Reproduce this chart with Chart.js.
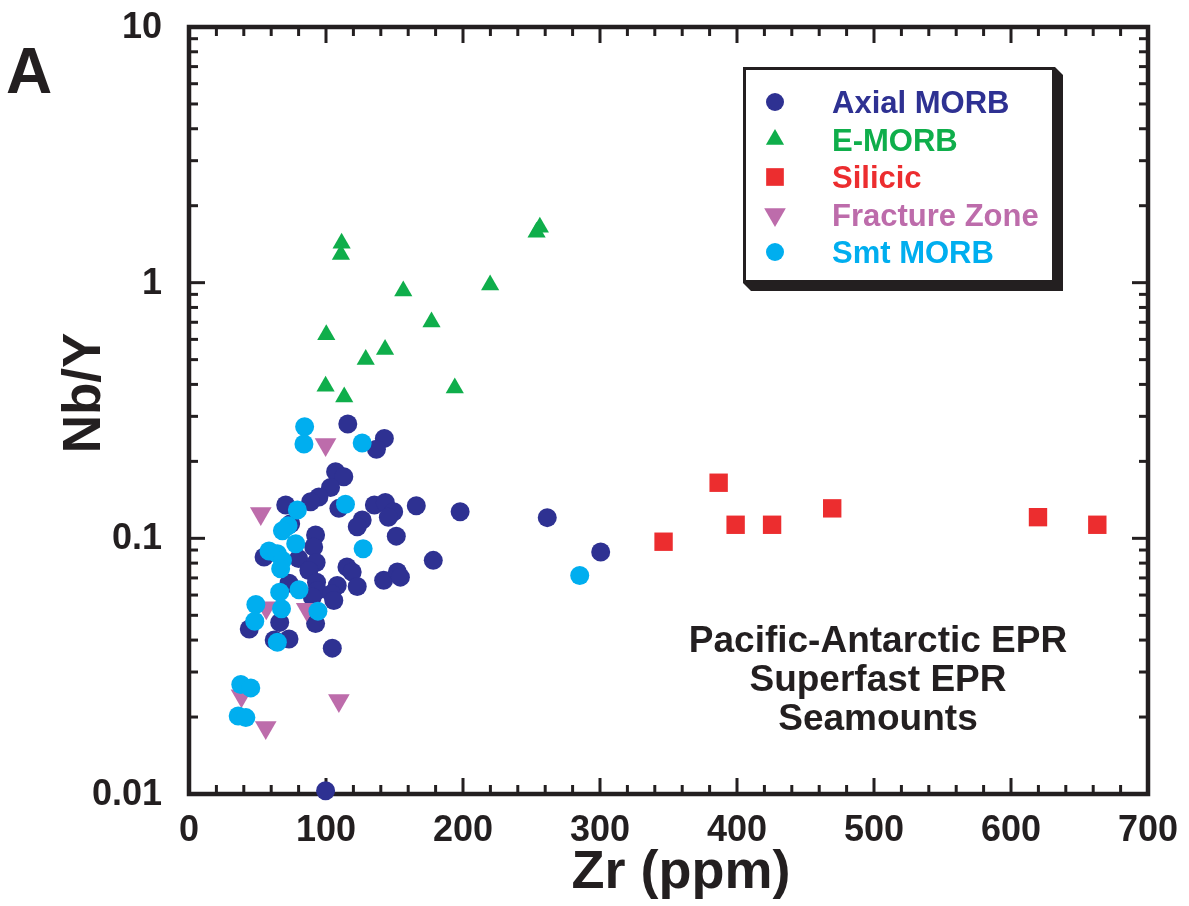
<!DOCTYPE html>
<html>
<head>
<meta charset="utf-8">
<script src="https://cdn.jsdelivr.net/npm/chart.js@4.4.1/dist/chart.umd.min.js"></script>
<style>
  html, body { margin: 0; padding: 0; background: #ffffff; }
  canvas { display: block; }
</style>
</head>
<body>
<canvas id="chart" width="1189" height="906"></canvas>
<script>
// Axis tick labels
const xTickLabels = [0, 100, 200, 300, 400, 500, 600, 700];
const yTickLabels = [0.01, 0.1, 1, 10];

// Series names (legend order)
const seriesNames = ['Axial MORB', 'E-MORB', 'Silicic', 'Fracture Zone', 'Smt MORB'];

// Axial MORB: Zr (ppm) and Nb/Y
const axialZr = [115.9, 142.6, 136.8, 107.0, 113.0, 103.3, 94.8, 88.8, 70.6, 109.4,
  135.3, 143.3, 149.4, 145.5, 126.4, 122.8, 165.9, 197.9, 151.3, 74.2,
  92.4, 91.0, 54.8, 80.0, 92.8, 87.5, 115.3, 119.1, 178.3, 142.1,
  152.1, 154.3, 73.0, 93.1, 93.6, 108.2, 122.8, 104.1, 105.7, 90.0,
  66.2, 92.4, 44.0, 73.0, 62.2, 104.6, 99.7, 261.5, 300.5];
const axialNbY = [0.280, 0.246, 0.223, 0.182, 0.174, 0.158, 0.145, 0.139, 0.135, 0.131,
  0.135, 0.138, 0.127, 0.121, 0.118, 0.111, 0.134, 0.127, 0.102, 0.114,
  0.103, 0.0925, 0.0845, 0.0833, 0.0805, 0.0749, 0.0772, 0.0738, 0.0820, 0.0685,
  0.0738, 0.0705, 0.0668, 0.0674, 0.0625, 0.0654, 0.0648, 0.0607, 0.0571, 0.0589,
  0.0469, 0.0464, 0.0442, 0.0404, 0.0400, 0.0372, 0.0103, 0.1205, 0.0884];

// E-MORB
const emorbZr = [111.4, 110.9, 156.4, 219.8, 256.1, 253.7, 177.0, 100.2, 143.1, 129.0, 99.7, 113.3, 194.0];
const emorbNbY = [1.426, 1.288, 0.928, 0.979, 1.649, 1.576, 0.702, 0.626, 0.548, 0.501, 0.393, 0.357, 0.387];

// Silicic
const silicicZr = [346.4, 386.6, 399.0, 425.6, 469.5, 619.7, 663.0];
const silicicNbY = [0.097, 0.165, 0.113, 0.113, 0.131, 0.121, 0.113];

// Fracture Zone
const fractureZr = [99.7, 52.4, 56.4, 85.9, 38.3, 56.0, 109.4];
const fractureNbY = [0.233, 0.125, 0.0535, 0.0528, 0.0242, 0.0182, 0.0232];

// Seamount MORB
const smtZr = [84.4, 83.9, 126.4, 114.2, 79.1, 72.3, 68.2, 77.9, 58.4, 64.5,
  68.2, 66.9, 127.1, 66.2, 80.3, 48.8, 67.5, 94.1, 48.0, 64.5,
  37.8, 45.1, 35.9, 41.5, 285.2];
const smtNbY = [0.273, 0.234, 0.236, 0.136, 0.129, 0.112, 0.107, 0.0953, 0.0892, 0.0871,
  0.0820, 0.0761, 0.0911, 0.0616, 0.0629, 0.0551, 0.0530, 0.0519, 0.0474, 0.0392,
  0.0268, 0.0260, 0.0202, 0.0199, 0.0716];

// Inset annotation lines
const noteLines = ['Pacific-Antarctic EPR', 'Superfast EPR', 'Seamounts'];

const pairs = (xs, ys) => xs.map((v, i) => ({ x: v, y: ys[i] }));

const INK = '#231f20';
const FONT = '"Liberation Sans", Arial, Helvetica, sans-serif';
const colors = {
  axial: '#2e3192',
  emorb: '#0fae4b',
  silicic: '#ec2d2f',
  fracture: '#bd6cab',
  smt: '#00aeef'
};

const datasets = [
  { label: seriesNames[0], data: pairs(axialZr, axialNbY), backgroundColor: colors.axial,
    pointStyle: 'circle', pointRadius: 9.5, pointRotation: 0, order: 5, legendRadius: 9 },
  { label: seriesNames[1], data: pairs(emorbZr, emorbNbY), backgroundColor: colors.emorb,
    pointStyle: 'triangle', pointRadius: 10.5, pointRotation: 0, order: 4, legendRadius: 10.5 },
  { label: seriesNames[2], data: pairs(silicicZr, silicicNbY), backgroundColor: colors.silicic,
    pointStyle: 'rect', pointRadius: 13, pointRotation: 0, order: 3, legendRadius: 12.5 },
  { label: seriesNames[3], data: pairs(fractureZr, fractureNbY), backgroundColor: colors.fracture,
    pointStyle: 'triangle', pointRadius: 12.5, pointRotation: 180, order: 2, legendRadius: 12.5 },
  { label: seriesNames[4], data: pairs(smtZr, smtNbY), backgroundColor: colors.smt,
    pointStyle: 'circle', pointRadius: 9.5, pointRotation: 0, order: 1, legendRadius: 9 }
].map(d => Object.assign(d, { borderWidth: 0, pointBorderWidth: 0, pointBackgroundColor: d.backgroundColor, clip: false, showLine: false }));

function seg(ctx, x1, y1, x2, y2) {
  ctx.beginPath();
  ctx.moveTo(x1, y1);
  ctx.lineTo(x2, y2);
  ctx.stroke();
}

// Frame with inward ticks on all four sides, labels, legend and note
const framePlugin = {
  id: 'frame',
  beforeDatasetsDraw(chart) {
    const { ctx, chartArea: a, scales: { x, y } } = chart;
    ctx.save();
    ctx.strokeStyle = INK;
    ctx.lineWidth = 3;
    const xMin = xTickLabels[0], xMax = xTickLabels[xTickLabels.length - 1];
    const xStep = xTickLabels[1] - xTickLabels[0];
    const xMinor = xStep / 5;
    for (let v = xMin; v <= xMax + 1e-9; v += xMinor) {
      const px = x.getPixelForValue(v);
      const major = Math.abs(v / xStep - Math.round(v / xStep)) < 1e-6;
      const len = major ? 16 : 9;
      seg(ctx, px, a.bottom, px, a.bottom - len);
      seg(ctx, px, a.top, px, a.top + len);
    }
    for (let d = 0; d < yTickLabels.length - 1; d++) {
      const base = yTickLabels[d];
      for (let m = 1; m <= 9; m++) {
        const py = y.getPixelForValue(base * m);
        const len = m === 1 ? 16 : 9;
        seg(ctx, a.left, py, a.left + len, py);
        seg(ctx, a.right, py, a.right - len, py);
      }
    }
    ctx.lineWidth = 4.5;
    ctx.strokeRect(a.left, a.top, a.right - a.left, a.bottom - a.top);
    ctx.restore();
  },
  afterDraw(chart) {
    const { ctx, scales: { x, y } } = chart;
    ctx.save();
    ctx.fillStyle = INK;

    // tick labels
    ctx.font = 'bold 36px ' + FONT;
    ctx.textAlign = 'center';
    ctx.textBaseline = 'alphabetic';
    xTickLabels.forEach(v => ctx.fillText(String(v), x.getPixelForValue(v), 841));
    ctx.textAlign = 'right';
    ctx.textBaseline = 'middle';
    yTickLabels.forEach(v => ctx.fillText(String(v), 162, y.getPixelForValue(v) + 1));

    // axis titles
    ctx.font = 'bold 54px ' + FONT;
    ctx.textAlign = 'center';
    ctx.textBaseline = 'alphabetic';
    ctx.fillText('Zr (ppm)', 681, 888);
    ctx.save();
    ctx.translate(100, 393);
    ctx.rotate(-Math.PI / 2);
    ctx.font = 'bold 53px ' + FONT;
    ctx.fillText('Nb/Y', 0, 0);
    ctx.restore();

    // panel letter
    ctx.font = 'bold 64px ' + FONT;
    ctx.textAlign = 'left';
    ctx.fillText('A', 6, 93);

    // annotation
    ctx.font = 'bold 37px ' + FONT;
    ctx.textAlign = 'center';
    noteLines.forEach((t, i) => ctx.fillText(t, 878, 652 + i * 39));

    // legend box with extruded shadow
    const L = 743, T = 67, R = 1055, B = 283, off = 8;
    ctx.fillStyle = INK;
    ctx.beginPath();
    ctx.moveTo(R, T);
    ctx.lineTo(R + off, T + off);
    ctx.lineTo(R + off, B + off);
    ctx.lineTo(L + off, B + off);
    ctx.lineTo(L, B);
    ctx.closePath();
    ctx.fill();
    ctx.fillStyle = '#ffffff';
    ctx.fillRect(L, T, R - L, B - T);
    ctx.strokeStyle = INK;
    ctx.lineWidth = 3;
    ctx.strokeRect(L + 1.5, T + 1.5, R - L - 3, B - T - 3);

    ctx.font = 'bold 31px ' + FONT;
    ctx.textAlign = 'left';
    ctx.textBaseline = 'alphabetic';
    chart.data.datasets.forEach((ds, i) => {
      const baseY = 113 + i * 37.5;
      ctx.fillStyle = ds.backgroundColor;
      Chart.helpers.drawPoint(ctx, {
        pointStyle: ds.pointStyle,
        radius: ds.legendRadius,
        rotation: ds.pointRotation,
        borderWidth: 0
      }, 775, baseY - 11);
      ctx.fillStyle = ds.backgroundColor;
      ctx.fillText(ds.label, 832, baseY);
    });
    ctx.restore();
  }
};

const whiteBg = {
  id: 'whiteBg',
  beforeDraw(chart) {
    const { ctx, width, height } = chart;
    ctx.save();
    ctx.fillStyle = '#ffffff';
    ctx.fillRect(0, 0, width, height);
    ctx.restore();
  }
};

new Chart(document.getElementById('chart'), {
  type: 'scatter',
  data: { datasets },
  options: {
    responsive: false,
    animation: false,
    events: [],
    layout: { padding: { left: 189, top: 27, right: 41, bottom: 112 } },
    plugins: { legend: { display: false }, tooltip: { enabled: false } },
    scales: {
      x: {
        type: 'linear',
        display: false,
        min: xTickLabels[0],
        max: xTickLabels[xTickLabels.length - 1]
      },
      y: {
        type: 'logarithmic',
        display: false,
        min: yTickLabels[0],
        max: yTickLabels[yTickLabels.length - 1]
      }
    }
  },
  plugins: [whiteBg, framePlugin]
});
</script>
</body>
</html>
